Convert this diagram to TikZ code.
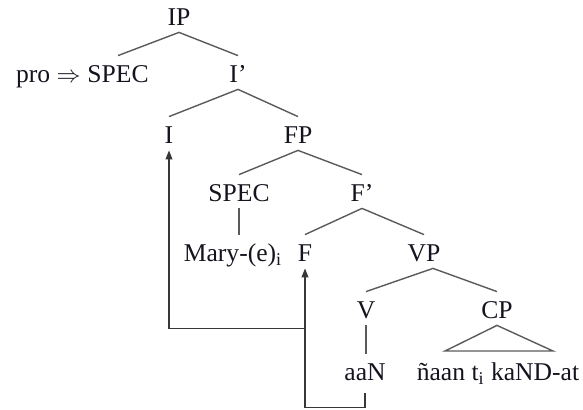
\documentclass[tikz,border=0pt]{standalone}
\usepackage{fontspec}
\setmainfont{Liberation Serif}
\usetikzlibrary{positioning,arrows.meta,calc}
\definecolor{branchgray}{RGB}{90,90,90}
\definecolor{movegray}{RGB}{55,55,55}
\definecolor{labelink}{RGB}{20,20,30}
\tikzset{
  tree-node/.style={anchor=base, font=\fontsize{12.8}{14}\selectfont, text=labelink,
    inner xsep=1pt, inner ysep=3pt, text height=10.5pt, text depth=0pt},
  branch-line/.style={draw=branchgray, line width=0.7pt},
  move-arrow/.style={draw=movegray, line width=0.7pt,
    -{Triangle[length=4.5pt,width=3.4pt]}}
}

\begin{document}
\begin{tikzpicture}[x=0.5pt,y=-0.5pt]
\useasboundingbox (0,0) rectangle (583,410);
\node[tree-node] (ip) at (179,26) {IP};
\node[tree-node] (spec-top) at (118,83) {SPEC};
\node[tree-node, anchor=base east] (pro) at (83,83) {pro $\Rightarrow$};
\node[tree-node] (ibar) at (238,83) {I'};
\node[tree-node] (i) at (169,144) {I};
\node[tree-node] (fp) at (298,144) {FP};
\node[tree-node] (spec-low) at (239,202) {SPEC};
\node[tree-node] (fbar) at (362,202) {F'};
\node[tree-node] (mary) at (233,262) {Mary-(e)\textsubscript{i}};
\node[tree-node] (f) at (305,262) {F};
\node[tree-node] (vp) at (424,262) {VP};
\node[tree-node] (v) at (366,319) {V};
\node[tree-node] (cp) at (497,319) {CP};
\node[tree-node] (aan) at (365,381) {aaN};
\node[tree-node] (cp-text) at (498,381) {ñaan t\textsubscript{i} kaND-at};

\draw[branch-line] (ip.south) -- (spec-top.north);
\draw[branch-line] (ip.south) -- (ibar.north);
\draw[branch-line] (ibar.south) -- (i.north);
\draw[branch-line] (ibar.south) -- (fp.north);
\draw[branch-line] (fp.south) -- (spec-low.north);
\draw[branch-line] (fp.south) -- (fbar.north);
\draw[branch-line] (spec-low.south) -- (spec-low.south |- mary.north);
\draw[branch-line] (fbar.south) -- (f.north);
\draw[branch-line] (fbar.south) -- (vp.north);
\draw[branch-line] ([xshift=4.5pt]vp.south) -- (v.north);
\draw[branch-line] ([xshift=4.5pt]vp.south) -- (cp.north);
\draw[branch-line] (v.south) -- (v.south |- aan.north);
\coordinate (tri-left) at (445,351);
\coordinate (tri-right) at (553,351);
\draw[branch-line] (cp.south) -- (tri-left) -- (tri-right) -- cycle;

\draw[move-arrow, shorten <=3pt] (aan.south) -- ++(0,20) -| (f.south);
\coordinate (join) at ($(f.south)+(0,60)$);
\draw[move-arrow] (join) -| (i.south);
\end{tikzpicture}
\end{document}
